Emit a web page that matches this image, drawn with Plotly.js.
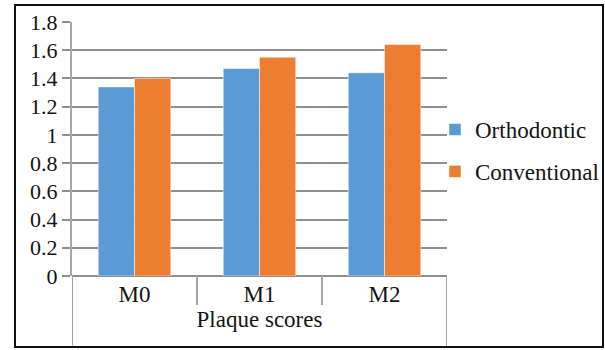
<!DOCTYPE html>
<html>
<head>
<meta charset="utf-8">
<script src="https://cdn.plot.ly/plotly-3.0.1.min.js"></script>
<style>
  html, body { margin: 0; padding: 0; background: #fff; }
  #wrap { position: relative; width: 605px; height: 350px; }
  #chart { position: absolute; left: 0; top: 0; width: 605px; height: 350px; }
  #frame { position: absolute; left: 14px; top: 4px; width: 590px; height: 344px;
           border: 2px solid #111; box-sizing: border-box; pointer-events: none; }
</style>
</head>
<body>
<div id="wrap">
  <div id="chart"></div>
  <div id="frame"></div>
</div>
<script>
const categories = ["M0", "M1", "M2"];
const orthodontic = [1.34, 1.47, 1.44];
const conventional = [1.40, 1.55, 1.64];
const seriesNames = ["Orthodontic", "Conventional"];
const xTitle = "Plaque scores";

const FONT = "'Liberation Serif', 'Times New Roman', serif";
const gridColor = "#8f8f8f";
const axisColor = "#a6a6a6";
const textColor = "#141414";

const traces = [
  { type: "bar", name: seriesNames[0], x: categories, y: orthodontic,
    marker: { color: "#5b9bd5", line: { color: "#ffffff", width: 0.5 } }, legendgroup: "a" },
  { type: "bar", name: seriesNames[1], x: categories, y: conventional,
    marker: { color: "#ed7d31", line: { color: "#ffffff", width: 0.5 } }, legendgroup: "b" }
];

const plotH = 350 - 22 - 74;
const shapes = [];
for (let k = 0; k <= categories.length; k++) {
  const xb = k - 0.5;
  const outer = (k === 0 || k === categories.length);
  shapes.push({
    type: "line", xref: "x", yref: "paper",
    x0: xb, x1: xb, y0: 0, y1: outer ? -(347 - 276) / plotH : -(305 - 276) / plotH,
    line: { color: axisColor, width: 2 }
  });
}

const layout = {
  width: 605, height: 350,
  margin: { l: 72, r: 158, t: 22, b: 74, autoexpand: false },
  paper_bgcolor: "#ffffff", plot_bgcolor: "#ffffff",
  font: { family: FONT, size: 22, color: textColor },
  barmode: "group", bargap: 0.42, bargroupgap: 0,
  showlegend: true,
  legend: { x: 0.968, y: 0.494, xanchor: "left", yanchor: "middle",
            font: { family: FONT, size: 23, color: textColor },
            tracegroupgap: 9, itemwidth: 30, bgcolor: "rgba(0,0,0,0)" },
  xaxis: {
    type: "category", range: [-0.5, categories.length - 0.5],
    showgrid: false, zeroline: false, showline: false, ticks: "",
    tickfont: { family: FONT, size: 23, color: textColor },
    ticklabelstandoff: 2,
    title: { text: xTitle, font: { family: FONT, size: 23, color: textColor }, standoff: 0 },
    automargin: false, fixedrange: true
  },
  yaxis: {
    range: [0, 1.8], dtick: 0.2, tick0: 0,
    showgrid: true, gridcolor: gridColor, gridwidth: 2,
    zeroline: true, zerolinecolor: gridColor, zerolinewidth: 2,
    showline: true, linecolor: axisColor, linewidth: 2,
    ticks: "outside", ticklen: 8, tickcolor: gridColor, tickwidth: 2,
    tickfont: { family: FONT, size: 22, color: textColor },
    automargin: false, fixedrange: true
  },
  shapes: shapes
};

Plotly.newPlot("chart", traces, layout, { displayModeBar: false, staticPlot: true });
</script>
</body>
</html>
